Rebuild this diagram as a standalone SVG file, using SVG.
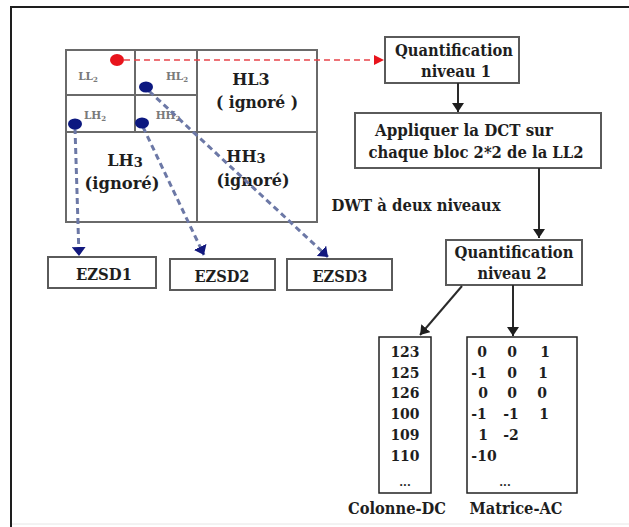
<svg xmlns="http://www.w3.org/2000/svg" width="629" height="527" viewBox="0 0 629 527">
  <style>
    .box { fill: #fff; stroke: #5a5a5a; stroke-width: 2; }
    .tab { fill: #fff; stroke: #222; stroke-width: 1.5; }
    .grid { fill: none; stroke: #6a6a6a; stroke-width: 2; }
    .t { font-family: "DejaVu Serif", "Liberation Serif", serif; font-weight: bold; font-size: 16px; fill: #1e1e1e; text-anchor: middle; }
    .num { font-size: 14px; }
    .sub { font-family: "DejaVu Serif", "Liberation Serif", serif; font-weight: bold; font-size: 10.5px; fill: #7a7a7a; text-anchor: middle; }
    .solid { fill: none; stroke: #2a2a2a; stroke-width: 2; }
    .red { fill: none; stroke: #e8444a; stroke-width: 1.4; stroke-dasharray: 6 4; }
    .blue { fill: none; stroke: #6c78a6; stroke-width: 3; stroke-dasharray: 6 4; }
  </style>
  <defs>
    <marker id="arrowBlack" markerUnits="userSpaceOnUse" markerWidth="12" markerHeight="12" refX="9" refY="6" orient="auto">
      <path d="M0,0 L9,6 L0,12 z" fill="#1e1e1e"/>
    </marker>
    <marker id="arrowRed" markerUnits="userSpaceOnUse" markerWidth="12" markerHeight="10" refX="10" refY="5" orient="auto">
      <path d="M0,0 L10,5 L0,10 z" fill="#e8141c"/>
    </marker>
    <marker id="arrowNavy" markerUnits="userSpaceOnUse" markerWidth="12" markerHeight="14" refX="9" refY="7" orient="auto">
      <path d="M0,0 L9,7 L0,14 z" fill="#12187e"/>
    </marker>
  </defs>

  <rect width="629" height="527" fill="#fff"/>
  <!-- outer frame -->
  <path d="M11,527 V7 H629" fill="none" stroke="#1e1e1e" stroke-width="2"/>
  <path d="M12,524 H629" fill="none" stroke="#e6e6e6" stroke-width="1"/>

  <!-- two-level DWT subband layout -->
  <g id="dwt-grid">
    <rect class="grid" x="66" y="50" width="251" height="172"/>
    <line class="grid" x1="135" y1="50" x2="135" y2="132"/>
    <line class="grid" x1="197" y1="50" x2="197" y2="222"/>
    <line class="grid" x1="66" y1="95" x2="197" y2="95"/>
    <line class="grid" x1="66" y1="132" x2="317" y2="132"/>
    <text class="sub" x="88" y="80">LL<tspan font-size="7" dy="2">2</tspan></text>
    <text class="sub" x="177" y="80">HL<tspan font-size="7" dy="2">2</tspan></text>
    <text class="sub" x="95" y="119">LH<tspan font-size="7" dy="2">2</tspan></text>
    <text class="sub" x="168" y="119">HH<tspan font-size="7" dy="2">2</tspan></text>
    <text class="t" x="251" y="85">HL3</text>
    <text class="t" x="257" y="108" textLength="82" lengthAdjust="spacingAndGlyphs">( ignoré )</text>
    <text class="t" x="125" y="166">LH<tspan font-size="13" dy="1">3</tspan></text>
    <text class="t" x="122" y="189" textLength="75" lengthAdjust="spacingAndGlyphs">(ignoré)</text>
    <text class="t" x="246" y="162">HH<tspan font-size="13" dy="1">3</tspan></text>
    <text class="t" x="253" y="186" textLength="73" lengthAdjust="spacingAndGlyphs">(ignoré)</text>
    <text class="t" x="416" y="211" textLength="169" lengthAdjust="spacingAndGlyphs">DWT à deux niveaux</text>
  </g>

  <g id="quant1">
    <rect class="box" x="385" y="37" width="134" height="46"/>
    <text class="t" x="454" y="56" textLength="118" lengthAdjust="spacingAndGlyphs">Quantification</text>
    <text class="t" x="456" y="77" textLength="70" lengthAdjust="spacingAndGlyphs">niveau 1</text>
  </g>

  <g id="dct">
    <rect class="box" x="355" y="113" width="246" height="55"/>
    <text class="t" x="464" y="136" textLength="178" lengthAdjust="spacingAndGlyphs">Appliquer la DCT sur</text>
    <text class="t" x="476" y="158" textLength="215" lengthAdjust="spacingAndGlyphs">chaque bloc 2*2 de la LL2</text>
  </g>

  <g id="quant2">
    <rect class="box" x="446" y="240" width="136" height="45"/>
    <text class="t" x="514" y="258" textLength="119" lengthAdjust="spacingAndGlyphs">Quantification</text>
    <text class="t" x="512" y="279" textLength="69" lengthAdjust="spacingAndGlyphs">niveau 2</text>
  </g>

  <g id="ezsd1">
    <rect class="box" x="48" y="257" width="108" height="31"/>
    <text class="t" x="104" y="280" font-size="15" textLength="56" lengthAdjust="spacingAndGlyphs">EZSD1</text>
  </g>
  <g id="ezsd2">
    <rect class="box" x="170" y="259" width="105" height="31"/>
    <text class="t" x="222" y="282" font-size="15" textLength="55" lengthAdjust="spacingAndGlyphs">EZSD2</text>
  </g>
  <g id="ezsd3">
    <rect class="box" x="287" y="259" width="105" height="31"/>
    <text class="t" x="340" y="282" font-size="15" textLength="55" lengthAdjust="spacingAndGlyphs">EZSD3</text>
  </g>

  <g id="colonne-dc">
    <rect class="tab" x="379" y="337" width="52" height="156"/>
    <g class="t num">
      <text x="405" y="357">123</text>
      <text x="405" y="378">125</text>
      <text x="405" y="398">126</text>
      <text x="405" y="419">100</text>
      <text x="405" y="440">109</text>
      <text x="405" y="461">110</text>
      <text x="405" y="486" font-size="11">...</text>
    </g>
    <text class="t" x="397" y="514" textLength="98" lengthAdjust="spacingAndGlyphs">Colonne-DC</text>
  </g>

  <g id="matrice-ac">
    <rect class="tab" x="467" y="337" width="110" height="156"/>
    <g class="t num">
      <text x="482" y="357">0</text><text x="512" y="357">0</text><text x="545" y="357">1</text>
      <text x="479" y="378">-1</text><text x="512" y="378">0</text><text x="543" y="378">1</text>
      <text x="483" y="398">0</text><text x="512" y="398">0</text><text x="542" y="398">0</text>
      <text x="479" y="419">-1</text><text x="511" y="419">-1</text><text x="544" y="419">1</text>
      <text x="483" y="440">1</text><text x="511" y="440">-2</text>
      <text x="484" y="461">-10</text>
      <text x="505" y="486" font-size="11">...</text>
    </g>
    <text class="t" x="516" y="514" textLength="93" lengthAdjust="spacingAndGlyphs">Matrice-AC</text>
  </g>

  <g id="connectors">
    <!-- solid flow arrows -->
    <line class="solid" x1="458" y1="83" x2="458" y2="112" marker-end="url(#arrowBlack)"/>
    <line class="solid" x1="539" y1="168" x2="539" y2="238" marker-end="url(#arrowBlack)"/>
    <line class="solid" x1="462" y1="286" x2="420" y2="335" marker-end="url(#arrowBlack)"/>
    <line class="solid" x1="513" y1="285" x2="513" y2="336" marker-end="url(#arrowBlack)"/>
    <!-- LL2 to first quantification -->
    <line class="red" x1="124" y1="60" x2="384" y2="60" marker-end="url(#arrowRed)"/>
    <!-- detail subbands to EZSD coders -->
    <line class="blue" x1="75" y1="128" x2="79" y2="256" marker-end="url(#arrowNavy)"/>
    <line class="blue" x1="143" y1="127" x2="204" y2="255" marker-end="url(#arrowNavy)"/>
    <line class="blue" x1="149" y1="91" x2="328" y2="257" marker-end="url(#arrowNavy)"/>
    <!-- subband anchor dots -->
    <ellipse cx="117" cy="60" rx="7" ry="6" fill="#e8141c"/>
    <ellipse cx="146" cy="87" rx="7" ry="5.5" fill="#0c1880"/>
    <ellipse cx="75" cy="124" rx="7" ry="5.5" fill="#0c1880"/>
    <ellipse cx="142" cy="123" rx="7" ry="5.5" fill="#0c1880"/>
  </g>
</svg>
